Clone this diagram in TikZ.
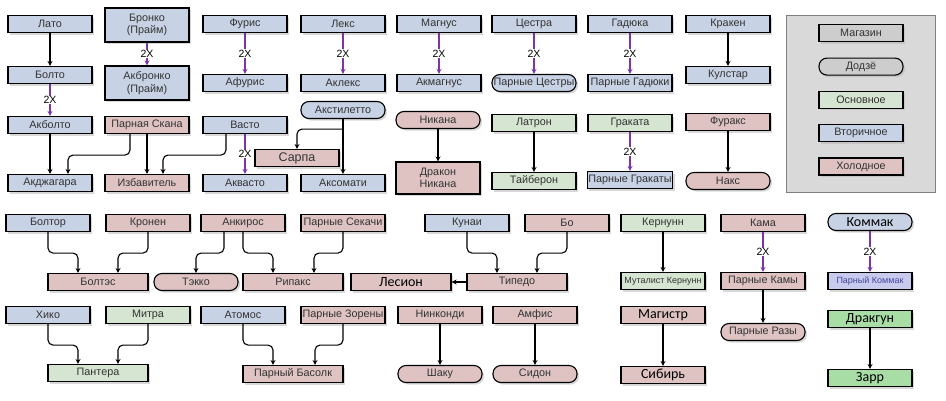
\documentclass[tikz,border=0pt]{standalone}
\usepackage{fontspec}
\setmainfont{Liberation Sans}
\newfontfamily\bigfont{Carlito}
\usetikzlibrary{arrows.meta,shadows}
\definecolor{textcol}{HTML}{333333}
\definecolor{seccol}{HTML}{C8D2E5}
\definecolor{coldcol}{HTML}{DFC3C3}
\definecolor{primcol}{HTML}{D5E5D1}
\definecolor{shopcol}{HTML}{CDCDCD}
\definecolor{legendcol}{HTML}{D9D9D9}
\definecolor{brightcol}{HTML}{A9DDA6}
\definecolor{lavcol}{HTML}{C9CBEE}
\definecolor{lavtext}{HTML}{44449A}
\definecolor{dblcol}{HTML}{7A35A8}

\begin{document}
\begin{tikzpicture}[x=1pt,y=-1pt,
  item/.style={draw=black,line width=1.1pt,minimum width=84pt,minimum height=17pt,inner sep=1pt,align=center,text=textcol,font=\fontsize{10.8}{12.5}\selectfont,drop shadow={shadow xshift=2pt,shadow yshift=-2pt,fill=black!30}},
  sec/.style={item,fill=seccol},
  cold/.style={item,fill=coldcol},
  prim/.style={item,fill=primcol},
  shop/.style={item,fill=shopcol},
  pill/.style={rounded corners=8pt},
  dojo/.style={shop,pill},
  tall/.style={minimum height=34pt},
  wide/.style={minimum width=100pt},
  big/.style={text=black,font=\bigfont\fontsize{14}{16}\selectfont},
  small/.style={font=\fontsize{9}{10}\selectfont},
  link/.style={draw=black,line width=1.1pt,rounded corners=5pt,-{Stealth[length=5pt,width=5pt]}},
  dbl/.style={draw=dblcol,line width=1.1pt,-{Stealth[length=5pt,width=5pt]}},
  twox/.style={fill=white,inner sep=0.5pt,text=black,font=\fontsize{10.5}{12}\selectfont}]
\useasboundingbox (0,0) rectangle (946,400);

\draw[draw=gray,fill=legendcol] (786,15) rectangle (935,192);
\foreach \sty/\txt [count=\i] in {shop/Магазин,dojo/Додзё,prim/Основное,sec/Вторичное,cold/Холодное}
  \node[\sty] (leg\i) at (861,33.3*\i) {\txt};

\foreach \nm/\x/\y/\txt in {
  lato/50/24/Лато, bolto/50/75/Болто, akbolto/50/125/Акболто, akdzh/50/183/Акджагара,
  furis/245/24/Фурис, afuris/245/83/Афурис, vasto/245/125/Васто, akvasto/245/183/Аквасто,
  leks/343/24/Лекс, akleks/343/83/Аклекс, aksomati/343/183/Аксомати,
  magnus/439/24/Магнус, akmagnus/439/83/Акмагнус, cestra/534/24/Цестра,
  gaduka/630/24/Гадюка, pgaduki/630/83/Парные Гадюки, pgrakaty/630/180/Парные Гракаты,
  kraken/728/24/Кракен, kulstar/728/75/Кулстар,
  boltor/48/223/Болтор, hiko/48/315/Хико, atomos/243/315/Атомос, kunai/467/223/Кунаи}
  \node[sec] (\nm) at (\x,\y) {\txt};

\foreach \nm/\x/\y/\txt in {bronko/147/25/{Бронко\\(Прайм)}, akbronko/147/83/{Акбронко\\(Прайм)}}
  \node[sec,tall] (\nm) at (\x,\y) {\txt};

\foreach \nm/\x/\y/\txt in {akstil/343/110/Акстилетто, pcestry/534/83/Парные Цестры}
  \node[sec,pill] (\nm) at (\x,\y) {\txt};

\foreach \nm/\x/\y/\txt in {
  skana/147/125/Парная Скана, izbav/147/183/Избавитель, furaks/728/122/Фуракс,
  kronen/148/223/Кронен, ankiros/243/223/Анкирос, psekachi/343/223/Парные Секачи,
  bo/567/223/Бо, kama/763/223/Кама, pkamy/763/281/Парные Камы,
  pzoreny/343/315/Парные Зорены, ninkondi/440/315/Нинконди, amfis/535/315/Амфис}
  \node[cold] (\nm) at (\x,\y) {\txt};

\foreach \nm/\x/\y/\txt in {
  nikana/438/120/Никана, naks/728/181/Накс, tekko/196/282/Тэкко,
  shaku/440/374/Шаку, sidon/535/374/Сидон, praz/763/332/Парные Разы}
  \node[cold,pill] (\nm) at (\x,\y) {\txt};

\foreach \nm/\x/\y/\txt in {boltes/98/282/Болтэс, ripaks/293/282/Рипакс, tipedo/517/282/Типедо, pbasolk/293/374/Парный Басолк}
  \node[cold,wide] (\nm) at (\x,\y) {\txt};

\foreach \nm/\x/\y/\txt in {latron/534/123/Латрон, tayberon/534/181/Тайберон, grakata/630/123/Граката, mitra/148/315/Митра, kernunn/663/223/Кернунн}
  \node[prim] (\nm) at (\x,\y) {\txt};

\node[cold,minimum height=32pt] (drakon) at (438,178) {Дракон\\Никана};
\node[cold,font=\fontsize{12.5}{14}\selectfont] (sarpa) at (297,158) {Сарпа};
\node[cold,wide,big] (lesion) at (401,282) {Лесион};
\node[cold,big] (magistr) at (663,315) {Магистр};
\node[cold,big] (sibir) at (663,375) {Сибирь};
\node[prim,small] (mutalist) at (663,281) {Муталист Кернунн};
\node[prim,wide] (pantera) at (98,373) {Пантера};
\node[sec,pill,big] (kommak) at (870,222) {Коммак};
\node[item,fill=lavcol,text=lavtext,small] (pkommak) at (870,281) {Парный Коммак};
\node[prim,fill=brightcol,big] (drakgun) at (870,319) {Дракгун};
\node[prim,fill=brightcol,big] (zarr) at (870,378) {Зарр};

\foreach \a/\b in {bolto/akbolto,bronko/akbronko,furis/afuris,leks/akleks,magnus/akmagnus,cestra/pcestry,gaduka/pgaduki,grakata/pgrakaty,vasto/akvasto,kama/pkamy,kommak/pkommak}
  \draw[dbl] (\a.south) -- node[twox]{2X} (\b.north);

\foreach \a/\b in {lato/bolto,akbolto/akdzh,skana/izbav,kraken/kulstar,nikana/drakon,latron/tayberon,furaks/naks,akstil/aksomati,ninkondi/shaku,amfis/sidon,kernunn/mutalist,magistr/sibir,pkamy/praz,drakgun/zarr}
  \draw[link] (\a.south) -- (\b.north);

\foreach \a/\ax/\b/\bx in {skana/-17/akdzh/18, vasto/-19/izbav/16, boltor/0/boltes/-20, kronen/0/boltes/20, ankiros/-19/tekko/0, ankiros/0/ripaks/-20, psekachi/0/ripaks/21, kunai/0/tipedo/-20, bo/0/tipedo/20, hiko/0/pantera/-20, mitra/0/pantera/20, atomos/0/pbasolk/-20, pzoreny/0/pbasolk/22}
  \draw[link] ([xshift=\ax pt]\a.south) -- ++(0,21) -| ([xshift=\bx pt]\b.north);

\draw[link] ([yshift=-10pt]akstil.south) -| (sarpa.north);
\draw[link] (tipedo.west) -- (lesion.east);
\end{tikzpicture}
\end{document}
